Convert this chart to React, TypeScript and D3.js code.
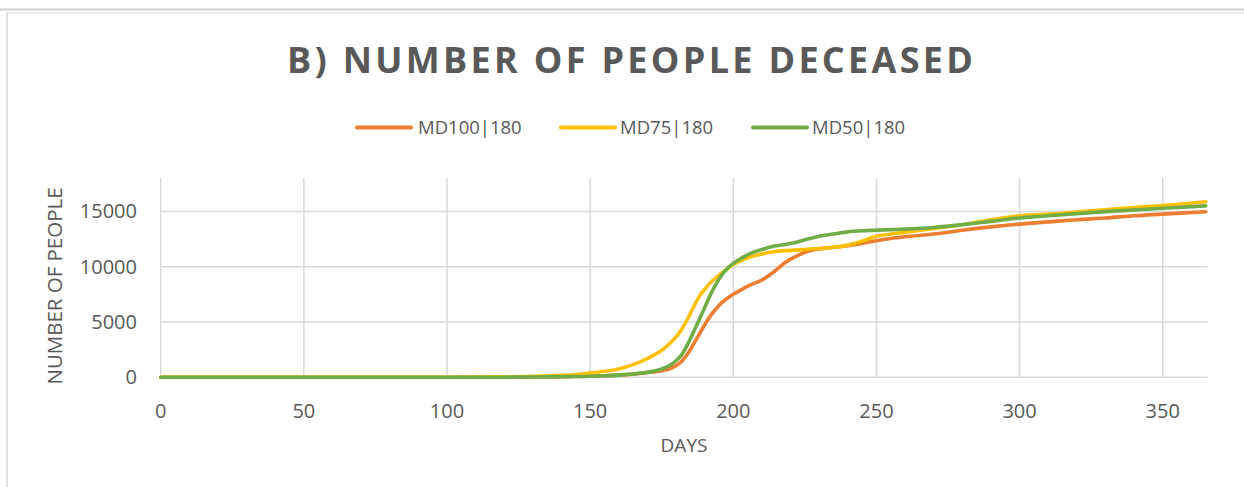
import React from "react";
import * as d3 from "d3";

const title = "B) NUMBER OF PEOPLE DECEASED";
const xAxisTitle = "DAYS";
const yAxisTitle = "NUMBER OF PEOPLE";
const seriesNames = ["MD100|180", "MD75|180", "MD50|180"];
const seriesColors = ["#ED7D31", "#FFC000", "#70AD47"];
const xTicks = [0, 50, 100, 150, 200, 250, 300, 350];
const yTicks = [0, 5000, 10000, 15000];

const days = [0, 50, 100, 120, 130, 140, 145, 150, 155, 160, 165, 170, 175, 178, 180, 182, 184, 186, 188, 190, 192, 194, 196, 198, 200, 203, 206, 210, 214, 218, 222, 226, 230, 235, 240, 245, 250, 255, 260, 270, 280, 290, 300, 310, 320, 330, 340, 350, 365];

const md100 = [0, 0, 0, 10, 25, 50, 70, 100, 140, 200, 290, 420, 600, 800, 1050, 1450, 2100, 2950, 3850, 4750, 5550, 6200, 6750, 7150, 7500, 7950, 8350, 8800, 9500, 10350, 10950, 11400, 11600, 11750, 11900, 12100, 12350, 12550, 12700, 12950, 13300, 13600, 13850, 14050, 14250, 14400, 14600, 14750, 14970];

const md75 = [0, 0, 0, 40, 80, 170, 250, 380, 540, 760, 1150, 1700, 2450, 3100, 3650, 4350, 5250, 6300, 7250, 7950, 8550, 9000, 9450, 9850, 10200, 10600, 10900, 11150, 11350, 11450, 11500, 11580, 11650, 11750, 11950, 12300, 12750, 12950, 13100, 13450, 13800, 14250, 14600, 14750, 14950, 15150, 15350, 15520, 15870];

const md50 = [0, 0, 0, 10, 25, 50, 70, 100, 140, 200, 300, 450, 750, 1100, 1500, 2050, 2950, 4050, 5150, 6300, 7450, 8450, 9250, 9850, 10300, 10800, 11200, 11550, 11850, 12000, 12200, 12500, 12750, 12950, 13150, 13250, 13300, 13350, 13400, 13550, 13800, 14100, 14400, 14600, 14800, 14980, 15130, 15280, 15500];

const seriesValues = [md100, md75, md50];

const W = 1244;
const H = 487;
const textColor = "#595959";
const gridColor = "#D9D9D9";
const font = "'Open Sans', sans-serif";

export default function App() {
  const x = d3.scaleLinear().domain([0, 365]).range([160.7, 1205.7]);
  const y = d3.scaleLinear().domain([0, 18000]).range([377.3, 178.2]);
  const line = d3
    .line<[number, number]>()
    .x((d) => x(d[0]))
    .y((d) => y(d[1]))
    .curve(d3.curveMonotoneX);

  const plotRight = 1207.5;
  const legendItems = [
    { lx: 357, tx: 418 },
    { lx: 561, tx: 620 },
    { lx: 753, tx: 812 },
  ];

  return (
    <div style={{ position: "absolute", left: 0, top: 0, width: W, height: H, background: "#fff" }}>
      <svg width={W} height={H} style={{ display: "block" }}>
        <rect x={0} y={0} width={W} height={H} fill="#fff" />
        {/* frame */}
        <line x1={0} x2={W} y1={9.5} y2={9.5} stroke="#D0D0D0" strokeWidth={2} />
        <line x1={7} x2={W} y1={13} y2={13} stroke="#E3E3E3" strokeWidth={1.5} />
        <line x1={7} x2={7} y1={12} y2={H} stroke="#D9D9D9" strokeWidth={1.5} />

        {/* title */}
        <text
          x={630}
          y={73}
          textAnchor="middle"
          fontFamily={font}
          fontWeight={700}
          fontSize={36}
          fill={textColor}
          textLength={686}
          lengthAdjust="spacing"
        >
          {title}
        </text>

        {/* legend */}
        {seriesNames.map((name, i) => (
          <g key={name}>
            <line
              x1={legendItems[i].lx}
              x2={legendItems[i].lx + 54}
              y1={127.5}
              y2={127.5}
              stroke={seriesColors[i]}
              strokeWidth={4}
              strokeLinecap="round"
            />
            <text
              x={legendItems[i].tx}
              y={134}
              fontFamily={font}
              fontSize={18.5}
              fill={textColor}
            >
              {name}
            </text>
          </g>
        ))}

        {/* gridlines */}
        {yTicks.map((t) => (
          <line key={"gy" + t} x1={x(0)} x2={plotRight} y1={y(t)} y2={y(t)} stroke={gridColor} strokeWidth={1.5} />
        ))}
        {xTicks.map((t) => (
          <line key={"gx" + t} x1={x(t)} x2={x(t)} y1={y(18000)} y2={y(0)} stroke={gridColor} strokeWidth={1.5} />
        ))}

        {/* tick labels */}
        {yTicks.map((t) => (
          <text
            key={"ly" + t}
            x={137}
            y={y(t) + 7}
            textAnchor="end"
            fontFamily={font}
            fontSize={20}
            fill={textColor}
          >
            {t}
          </text>
        ))}
        {xTicks.map((t) => (
          <text
            key={"lx" + t}
            x={x(t)}
            y={418}
            textAnchor="middle"
            fontFamily={font}
            fontSize={20}
            fill={textColor}
          >
            {t}
          </text>
        ))}

        {/* axis titles */}
        <text x={684} y={452} textAnchor="middle" fontFamily={font} fontSize={19} fill={textColor}>
          {xAxisTitle}
        </text>
        <text
          transform="translate(62,286) rotate(-90)"
          textAnchor="middle"
          fontFamily={font}
          fontSize={20}
          fill={textColor}
          textLength={197}
          lengthAdjust="spacingAndGlyphs"
        >
          {yAxisTitle}
        </text>

        {/* series */}
        {seriesValues.map((vals, i) => (
          <path
            key={seriesNames[i]}
            d={line(days.map((d, j) => [d, vals[j]] as [number, number])) || ""}
            fill="none"
            stroke={seriesColors[i]}
            strokeWidth={3.6}
            strokeLinecap="round"
            strokeLinejoin="round"
          />
        ))}
      </svg>
    </div>
  );
}
